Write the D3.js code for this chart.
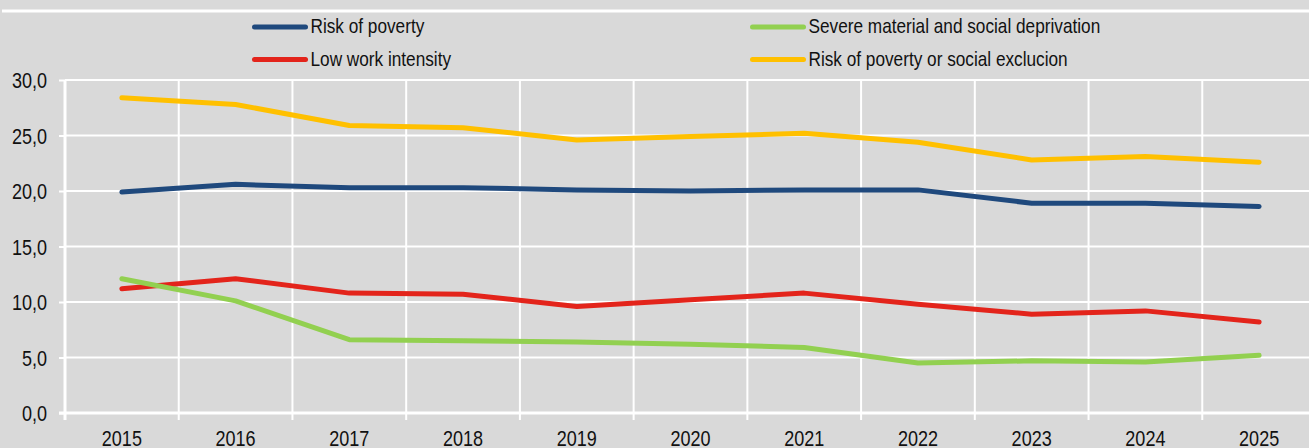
<!DOCTYPE html>
<html>
<head>
<meta charset="utf-8">
<script src="https://cdn.jsdelivr.net/npm/d3@7/dist/d3.min.js"></script>
<style>
  html, body { margin: 0; padding: 0; background: #d9d9d9; overflow: hidden; }
  svg { display: block; }
  text { font-family: "Liberation Sans", Arial, sans-serif; fill: #111; }
</style>
</head>
<body>
<svg id="chart" width="1309" height="448"></svg>
<script>
// Years on the horizontal axis
const years = ["2015","2016","2017","2018","2019","2020","2021","2022","2023","2024","2025"];

// Rates in percent, one array per indicator
const riskOfPoverty = [19.9, 20.6, 20.3, 20.3, 20.1, 20.0, 20.1, 20.1, 18.9, 18.9, 18.6];
const severeDeprivation = [12.1, 10.1, 6.6, 6.5, 6.4, 6.2, 5.9, 4.5, 4.7, 4.6, 5.2];
const lowWorkIntensity = [11.2, 12.1, 10.8, 10.7, 9.6, 10.2, 10.8, 9.8, 8.9, 9.2, 8.2];
const riskPovertyExclusion = [28.4, 27.8, 25.9, 25.7, 24.6, 24.9, 25.2, 24.4, 22.8, 23.1, 22.6];

// Value axis ticks
const yTicks = [0, 5, 10, 15, 20, 25, 30];

const seriesNames = ["Risk of poverty", "Low work intensity", "Severe material and social deprivation", "Risk of poverty or social exclucion"];
const seriesColors = ["#1f497d", "#e3241b", "#92d050", "#ffc000"];
const seriesValues = [riskOfPoverty, lowWorkIntensity, severeDeprivation, riskPovertyExclusion];

const W = 1309, H = 448;
const plot = { left: 65, right: 1316, top: 80, bottom: 413 };
const NARROW = 0.82; // horizontal squeeze giving a condensed face

const svg = d3.select("#chart");

const x = d3.scaleBand().domain(years).range([plot.left, plot.right]).padding(0);
const y = d3.scaleLinear().domain([0, 30]).range([plot.bottom, plot.top]);
const fmt = v => d3.format(".1f")(v).replace(".", ",");

// Background
svg.append("rect").attr("width", W).attr("height", H).attr("fill", "#d9d9d9");

// Separator line above the legend
svg.append("line")
  .attr("x1", 2).attr("x2", W).attr("y1", 11).attr("y2", 11)
  .attr("stroke", "#fff").attr("stroke-width", 3);

// Horizontal gridlines
svg.append("g").selectAll("line")
  .data(yTicks.filter(d => d > 0))
  .join("line")
  .attr("x1", plot.left).attr("x2", W)
  .attr("y1", d => y(d)).attr("y2", d => y(d))
  .attr("stroke", "#fff").attr("stroke-width", 2);

// Vertical gridlines at category boundaries
const boundaries = years.slice(1).map(d => x(d)).concat([plot.right]);
svg.append("g").selectAll("line")
  .data(boundaries)
  .join("line")
  .attr("x1", d => d).attr("x2", d => d)
  .attr("y1", plot.top).attr("y2", plot.bottom)
  .attr("stroke", "#fff").attr("stroke-width", 2);

// Y axis
const yAxis = svg.append("g")
  .attr("transform", `translate(${plot.left},0)`)
  .call(d3.axisLeft(y).tickValues(yTicks).tickFormat(fmt).tickSize(6).tickPadding(11));
yAxis.select(".domain").attr("stroke", "#fff").attr("stroke-width", 3)
  .attr("d", `M0,${plot.top}V${plot.bottom + 7}`);
yAxis.selectAll(".tick line").attr("stroke", "#fff").attr("stroke-width", 2);
yAxis.selectAll(".tick text")
  .attr("fill", "#111")
  .attr("x", -18 / NARROW)
  .attr("transform", `scale(${NARROW},1)`)
  .style("font-family", '"Liberation Sans", Arial, sans-serif')
  .style("font-size", "22px")
  .attr("dy", "0.36em");

// X axis
const xAxis = svg.append("g")
  .attr("transform", `translate(0,${plot.bottom})`)
  .call(d3.axisBottom(x).tickSize(0).tickPadding(0));
xAxis.select(".domain").remove();
xAxis.append("line")
  .attr("x1", plot.left - 6).attr("x2", W)
  .attr("y1", 0).attr("y2", 0)
  .attr("stroke", "#fff").attr("stroke-width", 3);
xAxis.selectAll(".bound")
  .data([plot.left].concat(boundaries))
  .join("line")
  .attr("class", "bound")
  .attr("x1", d => d).attr("x2", d => d)
  .attr("y1", 0).attr("y2", 7)
  .attr("stroke", "#fff").attr("stroke-width", 2);
xAxis.selectAll(".tick text")
  .attr("fill", "#111")
  .attr("y", 33)
  .attr("dy", 0)
  .attr("transform", `scale(${NARROW},1)`)
  .style("font-family", '"Liberation Sans", Arial, sans-serif')
  .style("font-size", "22px");

// Series lines
const line = d3.line()
  .x((d, i) => x(years[i]) + x.bandwidth() / 2)
  .y(d => y(d));

svg.append("g").selectAll("path")
  .data(seriesValues)
  .join("path")
  .attr("d", d => line(d))
  .attr("fill", "none")
  .attr("stroke", (d, i) => seriesColors[i])
  .attr("stroke-width", 5)
  .attr("stroke-linecap", "round")
  .attr("stroke-linejoin", "round");

// Legend: two columns, two rows
const legendCols = [254.5, 752.5];
const legendRows = [27, 59.5];
const legend = svg.append("g").selectAll("g")
  .data(seriesNames)
  .join("g")
  .attr("transform", (d, i) => `translate(${legendCols[Math.floor(i / 2)]},${legendRows[i % 2]})`);
legend.append("line")
  .attr("x1", 0).attr("x2", 51)
  .attr("stroke", (d, i) => seriesColors[i])
  .attr("stroke-width", 5)
  .attr("stroke-linecap", "round");
legend.append("text")
  .attr("transform", `translate(56,6) scale(${NARROW},1)`)
  .style("font-size", "21px")
  .text(d => d);
</script>
</body>
</html>
